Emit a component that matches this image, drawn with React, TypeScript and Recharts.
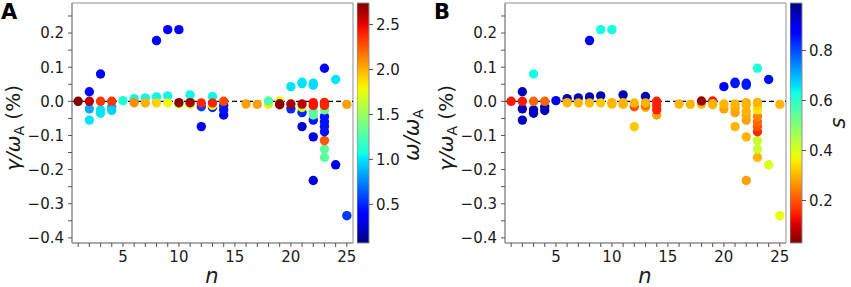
import { ScatterChart, Scatter, XAxis, YAxis, ReferenceLine, ReferenceArea, ComposedChart } from 'recharts'

// one entry per mode: toroidal number n, growth rate γ/ωA (%), frequency ω/ωA, parameter s
const modeN = [
  1, 2, 2, 2, 2, 3, 3, 3, 3, 4, 4, 4, 5, 6, 6, 7, 7, 8, 8, 8,
  9, 9, 9, 10, 10, 10, 11, 11, 11, 12, 12, 12, 13, 13, 13, 13, 14, 14, 14, 14,
  16, 17, 18, 18, 19, 19, 19, 20, 20, 20, 21, 21, 21, 21, 21, 21, 22, 22, 22, 22,
  22, 22, 22, 22, 22, 23, 23, 23, 23, 23, 23, 23, 23, 23, 23, 23, 24, 24, 25, 25,
]
const growthPct = [
  0, 0.028, -0.022, -0.055, 0, 0.08, -0.025, -0.035, 0, -0.016, -0.027, 0, 0.002, 0.008, -0.004, 0.01, -0.005, 0.178, 0.013, -0.005,
  0.21, 0.016, -0.005, 0.21, -0.008, -0.004, 0.019, -0.009, -0.004, -0.074, -0.016, -0.005, 0.014, -0.018, -0.012, -0.005, -0.04, -0.025, -0.012, 0,
  -0.008, -0.009, -0.008, 0.001, 0.001, -0.01, -0.007, 0.043, -0.022, -0.008, 0.056, 0.052, -0.074, -0.033, -0.018, -0.008, 0.053, 0.047, -0.232, -0.104,
  -0.055, -0.04, -0.03, -0.012, -0.004, 0.097, -0.164, -0.14, -0.115, -0.089, -0.074, -0.06, -0.045, -0.025, -0.012, -0.003, 0.064, -0.186, -0.009, -0.335,
]
const omegaRatio = [
  2.72, 0.42, 0.85, 1.0, 2.6, 0.4, 1.0, 1.0, 2.35, 0.85, 0.95, 2.35, 1.1, 1.05, 2.1, 1.05, 2.0, 0.38, 1.05, 1.9,
  0.38, 1.05, 1.8, 0.38, 1.75, 2.7, 1.05, 1.75, 2.65, 0.35, 0.55, 2.4, 1.05, 0.5, 1.75, 2.4, 0.38, 0.45, 0.45, 2.3,
  2.05, 2.05, 1.85, 1.25, 1.75, 2.7, 2.7, 1.0, 0.5, 2.65, 1.0, 1.0, 0.25, 0.5, 1.7, 2.6, 0.98, 0.98, 0.3, 0.3,
  0.45, 1.3, 1.3, 2.45, 2.45, 0.35, 1.3, 1.3, 2.25, 0.45, 0.45, 0.45, 0.45, 1.35, 2.4, 2.4, 1.0, 0.3, 2.05, 0.55,
]
const sParam = [
  0.14, 0.94, 0.94, 0.94, 0.14, 0.63, 0.94, 0.94, 0.22, 0.94, 0.94, 0.22, 0.9, 0.94, 0.3, 0.94, 0.3, 0.9, 0.94, 0.31,
  0.63, 0.94, 0.32, 0.63, 0.3, 0.3, 0.94, 0.3, 0.3, 0.32, 0.2, 0.3, 0.94, 0.3, 0.22, 0.3, 0.28, 0.15, 0.15, 0.15,
  0.3, 0.3, 0.3, 0.05, 0.14, 0.3, 0.3, 0.88, 0.28, 0.3, 0.85, 0.85, 0.3, 0.28, 0.29, 0.3, 0.85, 0.85, 0.28, 0.3,
  0.28, 0.29, 0.3, 0.3, 0.3, 0.62, 0.3, 0.42, 0.42, 0.16, 0.2, 0.22, 0.25, 0.35, 0.33, 0.3, 0.86, 0.4, 0.3, 0.38,
]

const nTicks = [1, 2, 3, 4, 5, 6, 7, 8, 9, 10, 11, 12, 13, 14, 15, 16, 17, 18, 19, 20, 21, 22, 23, 24, 25]
const gammaTicks = [-0.4, -0.35, -0.3, -0.25, -0.2, -0.15, -0.1, -0.05, 0, 0.05, 0.1, 0.15, 0.2, 0.25]
const omegaTicks = [0.5, 1.0, 1.5, 2.0, 2.5]
const sTicks = [0.2, 0.4, 0.6, 0.8]

const X_DOMAIN: [number, number] = [0.45, 25.55]
const Y_DOMAIN: [number, number] = [-0.415, 0.288]
const OMEGA_RANGE: [number, number] = [0.07, 2.74]
const S_RANGE: [number, number] = [0.03, 0.99]

const FONT = '"DejaVu Sans", sans-serif'
const SPINE = '#8f8f8f'
const INK = '#1a1a1a'

const points = modeN.map((n, i) => ({ n, g: growthPct[i], w: omegaRatio[i], s: sParam[i] }))

// matplotlib jet
const JET_R = [[0, 0], [0.35, 0], [0.66, 1], [0.89, 1], [1, 0.5]]
const JET_G = [[0, 0], [0.125, 0], [0.375, 1], [0.64, 1], [0.91, 0], [1, 0]]
const JET_B = [[0, 0.5], [0.11, 1], [0.34, 1], [0.65, 0], [1, 0]]

function seg(pts: number[][], t: number) {
  for (let i = 1; i < pts.length; i++) {
    if (t <= pts[i][0]) {
      const [x0, y0] = pts[i - 1]
      const [x1, y1] = pts[i]
      return y0 + ((t - x0) / (x1 - x0)) * (y1 - y0)
    }
  }
  return pts[pts.length - 1][1]
}

function jet(t: number) {
  const c = Math.max(0, Math.min(1, t))
  const r = Math.round(seg(JET_R, c) * 255)
  const g = Math.round(seg(JET_G, c) * 255)
  const b = Math.round(seg(JET_B, c) * 255)
  return `rgb(${r},${g},${b})`
}

const stopsAt = Array.from({ length: 41 }, (_, i) => i / 40)

const fmtTick = (v: number) => {
  if (Math.round(v * 100) % 10 !== 0) return ''
  return v.toFixed(1).replace('-', '\u2212')
}

interface PanelProps {
  left: number
  letter: string
  colorOf: (p: { w: number; s: number }) => string
  gradId: string
  reversed: boolean
  range: [number, number]
  cbTicks: number[]
  cbLabel: React.ReactNode
  cbLabelX: number
  cbLabelY: number
}

function Panel({ left, letter, colorOf, gradId, reversed, range, cbTicks, cbLabel, cbLabelX, cbLabelY }: PanelProps) {
  const tickStyle = { fontSize: 15, fill: INK, fontFamily: FONT }
  return (
    <>
      <div style={{ position: 'absolute', left, top: 0 }}>
        <ScatterChart width={360} height={287} margin={{ top: 3, right: 7, left: 0, bottom: 24 }}>
          <XAxis
            type="number"
            dataKey="n"
            domain={X_DOMAIN}
            ticks={nTicks}
            interval={0}
            tickFormatter={(v: number) => (v % 5 === 0 ? String(v) : '')}
            tick={tickStyle}
            tickSize={4}
            tickMargin={4}
            height={20}
            axisLine={{ stroke: SPINE }}
            tickLine={{ stroke: '#555' }}
            allowDataOverflow
          />
          <YAxis
            type="number"
            dataKey="g"
            domain={Y_DOMAIN}
            ticks={gammaTicks}
            interval={0}
            tickFormatter={fmtTick}
            tick={tickStyle}
            tickSize={4}
            tickMargin={4}
            width={72}
            axisLine={{ stroke: SPINE }}
            tickLine={{ stroke: '#555' }}
            allowDataOverflow
          />
          <ReferenceArea x1={X_DOMAIN[0]} x2={X_DOMAIN[1]} y1={Y_DOMAIN[0]} y2={Y_DOMAIN[1]} fill="none" stroke={SPINE} strokeWidth={1} />
          <ReferenceLine y={0} stroke="#000" strokeDasharray="5 3" strokeWidth={1.2} />
          <Scatter
            data={points}
            isAnimationActive={false}
            shape={(p: any) => <circle cx={p.cx} cy={p.cy} r={4.7} fill={colorOf(p.payload)} />}
          />
        </ScatterChart>
      </div>
      <div style={{ position: 'absolute', left: left + 357, top: 0 }}>
        <ComposedChart width={62} height={287} data={[{ x: 0 }, { x: 1 }]} margin={{ top: 3, right: 0, left: 0, bottom: 44 }}>
          <defs>
            <linearGradient id={gradId} x1="0" y1="1" x2="0" y2="0">
              {stopsAt.map((t) => (
                <stop key={t} offset={t} stopColor={jet(reversed ? 1 - t : t)} />
              ))}
            </linearGradient>
          </defs>
          <XAxis type="number" dataKey="x" domain={[0, 1]} hide />
          <YAxis
            type="number"
            orientation="right"
            domain={range}
            ticks={cbTicks}
            interval={0}
            tickFormatter={(v: number) => v.toFixed(1)}
            tick={{ fontSize: 15, fill: INK, fontFamily: FONT, textAnchor: 'start' }}
            tickSize={4}
            tickMargin={3}
            width={50}
            axisLine={false}
            tickLine={{ stroke: '#555' }}
            allowDataOverflow
          />
          <ReferenceArea x1={0} x2={1} y1={range[0]} y2={range[1]} fill={`url(#${gradId})`} fillOpacity={1} stroke={SPINE} />
        </ComposedChart>
      </div>
      <svg width={851} height={287} style={{ position: 'absolute', left: 0, top: 0, pointerEvents: 'none' }}>
        <text x={left + 1} y={19} fontFamily={FONT} fontWeight="bold" fontSize={21} fill="#000">{letter}</text>
        <text
          x={left + 20}
          y={128}
          transform={`rotate(-90 ${left + 20} 128)`}
          textAnchor="middle"
          fontFamily={FONT}
          fontSize={20}
          fill={INK}
        >
          <tspan fontStyle="italic">{'\u03b3/\u03c9'}</tspan>
          <tspan fontSize={14} dy={4}>A</tspan>
          <tspan dy={-4}>{' (%)'}</tspan>
        </text>
        <text x={left + 212} y={283} textAnchor="middle" fontFamily={FONT} fontStyle="italic" fontSize={21} fill={INK}>n</text>
        <text
          x={cbLabelX}
          y={cbLabelY}
          transform={`rotate(-90 ${cbLabelX} ${cbLabelY})`}
          textAnchor="middle"
          fontFamily={FONT}
          fontSize={21}
          fill={INK}
        >
          {cbLabel}
        </text>
      </svg>
    </>
  )
}

const norm = (v: number, r: [number, number]) => (v - r[0]) / (r[1] - r[0])

export default function App() {
  return (
    <div style={{ position: 'fixed', left: 0, top: 0, width: 851, height: 287, background: '#fff', overflow: 'hidden' }}>
      <Panel
        left={0}
        letter="A"
        colorOf={(p) => jet(norm(p.w, OMEGA_RANGE))}
        gradId="jetOmega"
        reversed={false}
        range={OMEGA_RANGE}
        cbTicks={omegaTicks}
        cbLabel={
          <>
            <tspan fontStyle="italic">{'\u03c9/\u03c9'}</tspan>
            <tspan fontSize={14} dy={4}>A</tspan>
          </>
        }
        cbLabelX={419}
        cbLabelY={135}
      />
      <Panel
        left={433}
        letter="B"
        colorOf={(p) => jet(1 - norm(p.s, S_RANGE))}
        gradId="jetS"
        reversed
        range={S_RANGE}
        cbTicks={sTicks}
        cbLabel={<tspan fontStyle="italic">s</tspan>}
        cbLabelX={845}
        cbLabelY={123}
      />
    </div>
  )
}
